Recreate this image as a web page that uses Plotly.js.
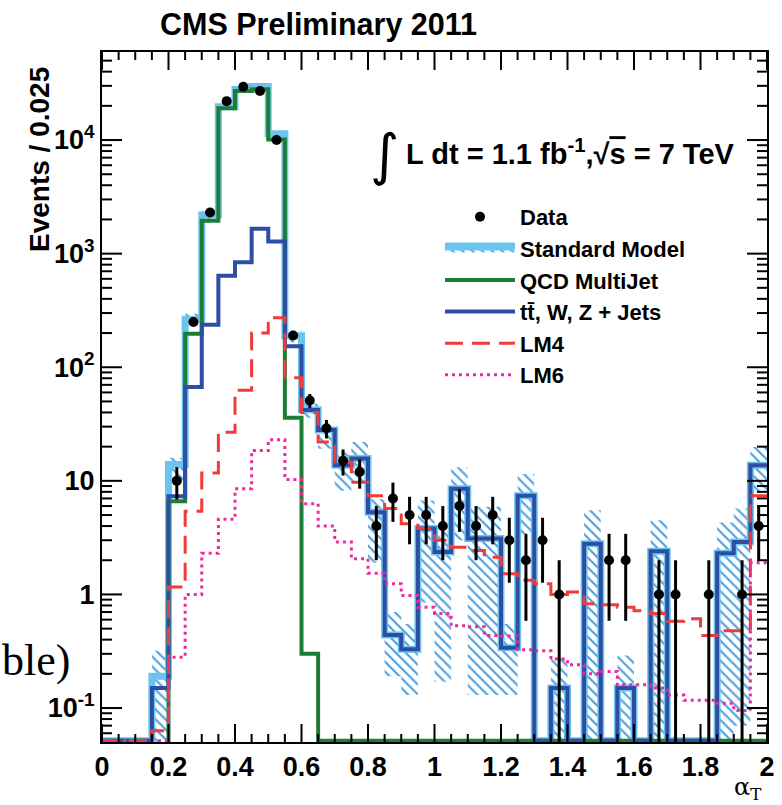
<!DOCTYPE html>
<html><head><meta charset="utf-8">
<script src="https://cdn.plot.ly/plotly-3.0.1.min.js"></script>
<style>html,body{margin:0;padding:0;background:#fff}</style>
</head><body><div id="chart" style="width:782px;height:805px"></div>
<script>
// ---- binning: 40 bins of width 0.05 from 0 to 2 ----
const binStart = 0, binWidth = 0.05, nBins = 40;

// ---- values (one entry per bin) ----
const dataCounts = [0,0,0,0, 10,250,2300,22000,29500,27000,10000,190,51, 29,15,12,4,7,5,5, 4,6,4,5,3,2, 3,1,0,0,2,2,0,1, 1,0,1,0,1,4];
const qcdMultiJet = [0,0,0,0.04, 6.6,197,1950,19000,27000,28000,10100,36,0.3, 0,0,0,0,0,0,0, 0,0,0,0,0,0, 0,0,0,0,0,0,0,0, 0,0,0,0,0,0];
const ttWZJets = [0,0,0,0.15, 7.3,67,237,640,840,1660,1280,153,42, 28,13.7,15.7,5.3,0.44,0.33,3.8, 2.36,8.5,3.1,3.1,0.34,7.4, 0,0.15,0,2.8,0,0.15,0,2.4, 0,0,0,2.3,2.9,13.7];
const lm4 = [0,0,0,0.063, 1.16,5.4,11.7,26.8,62.6,200,273,81,40, 22,14.6,9.7,7.4,5.7,4.2,3.8, 3.0,2.6,2.44,2.13,1.52,1.33, 1.24,1.0,1.05,0.83,0.81,0.77,0.72,0.68, 0.58,0.61,0.435,0.48,0.48,7.4];
const lm6 = [0,0,0,0, 0.28,1.0,2.3,4.6,8.5,18.5,23,10.3,6.3, 4.0,2.9,2.06,1.54,1.24,0.98,0.77, 0.68,0.53,0.52,0.435,0.43,0.326, 0.32,0.27,0.24,0.2,0.21,0.16,0.16,0.15, 0.13,0.117,0.117,0.11,0.095,1.9];
// Standard Model uncertainty band (hatched), lower and upper edge per bin
const smBandLo = [0,0,0,0, 10,234,2000,18500,26500,28000,10600,166,36, 19.2,8.2,9.7,1.9,0.19,0.13,0.85, 0.17,3,0.13,0.13,0.13,3.4, 0,0,0,0,0,0,0,0, 0,0,0,0,0.07,7.9];
const smBandHi = [0,0,0,0.32, 16,296,2400,21000,29500,31300,12000,210,48, 29.7,17.8,22,6.9,0.7,0.55,6.7, 3.9,13.2,5.9,5.9,0.55,11.5, 0,0.28,0,5.5,0,0.29,0,4.5, 0,0,0,4.3,5.7,19.9];

// ---- axis labels ----
const yTickVals = [0.1, 1, 10, 100, 1000, 10000];
const yTickText = ['10<sup>-1</sup>', '1', '10', '10<sup>2</sup>', '10<sup>3</sup>', '10<sup>4</sup>'];
const xMajorStep = 0.2, xMinorStep = 0.05;

// ---- derived ----
const X_RANGE = [0, 2];
const Y_RANGE = [-1.299, 4.775];
const FLOOR = Math.pow(10, Y_RANGE[0] + 0.012);   // empty bins sit on the frame
const BELOW = 0.02;                                 // below the frame (clipped)
const edges = []; for (let i = 0; i <= nBins; i++) edges.push(+(binStart + i * binWidth).toFixed(3));
const centers = edges.slice(0, -1).map(e => +(e + binWidth / 2).toFixed(3));
const smTotal = qcdMultiJet.map((v, i) => v + ttWZJets[i]);

function stepY(vals) { const y = vals.map(v => (v > 0 ? v : FLOOR)); y.push(y[y.length - 1]); return y; }
function stepLine(name, vals, line, rank, show) {
  return { type: 'scatter', mode: 'lines', name: name, x: edges, y: stepY(vals),
           line: Object.assign({ shape: 'hv' }, line), legendrank: rank, showlegend: show, hoverinfo: 'skip' };
}

const HATCH = { shape: '\\', fgcolor: '#4c9fe0', bgcolor: 'rgba(0,0,0,0)', size: 7, solidity: 0.3 };

// hatched band polygon
const bx = [], by = [];
for (let i = 0; i < nBins; i++) { const h = smBandHi[i] > 0 ? smBandHi[i] : BELOW; bx.push(edges[i], edges[i + 1]); by.push(h, h); }
for (let i = nBins - 1; i >= 0; i--) { const l = smBandLo[i] > 0 ? smBandLo[i] : BELOW; bx.push(edges[i + 1], edges[i]); by.push(l, l); }
bx.push(bx[0]); by.push(by[0]);

const band = { type: 'scatter', mode: 'lines', name: 'SM uncertainty', x: bx, y: by, fill: 'toself',
  fillcolor: 'rgba(0,0,0,0)', line: { width: 0, color: '#6cc4ee' }, fillpattern: HATCH, showlegend: false, hoverinfo: 'skip' };
const smLegend = { type: 'scatter', mode: 'lines', name: 'Standard Model', x: [null], y: [null], fill: 'toself',
  fillcolor: 'rgba(0,0,0,0)', line: { width: 8, color: '#6cc4ee' }, fillpattern: HATCH, legendrank: 2, showlegend: true, hoverinfo: 'skip' };

const smLine = stepLine('SM total', smTotal, { color: '#6cc4ee', width: 7 }, 9, false);
const qcdLine = stepLine('QCD MultiJet', qcdMultiJet, { color: '#1e7d34', width: 4 }, 3, true);
const ewkLine = stepLine('t\u0074\u0304, W, Z + Jets', ttWZJets, { color: '#2c4ea3', width: 4 }, 4, true);
const lm4Line = stepLine('LM4', lm4, { color: '#f23a3a', width: 3, dash: '18px,9px' }, 5, true);
const lm6Line = stepLine('LM6', lm6, { color: '#ee2a9a', width: 3, dash: '3px,4px' }, 6, true);

const dx = [], dy = [], eUp = [], eDn = [];
dataCounts.forEach((n, i) => {
  if (n > 0) { const s = Math.sqrt(n); dx.push(centers[i]); dy.push(n); eUp.push(s); eDn.push(n - s > 0.03 ? s : n - BELOW); }
});
const dataTrace = { type: 'scatter', mode: 'markers', name: 'Data', x: dx, y: dy, marker: { color: '#000', size: 10 },
  error_y: { type: 'data', symmetric: false, array: eUp, arrayminus: eDn, color: '#000', thickness: 3, width: 0 },
  legendrank: 1, showlegend: true, hoverinfo: 'skip' };

// minor log ticks
const yMinor = [];
for (let d = -2; d <= 4; d++) for (let k = 2; k <= 9; k++) yMinor.push(k * Math.pow(10, d));

const F = 'Liberation Sans, Arial, sans-serif';
const L = 102, R = 767, T = 52, B = 742;
const W = R - L, H = B - T;
const px = x => (x - L) / W, py = y => (B - y) / H;

// ROOT-style inside ticks on all four sides, placed from the axis tick values
const tickShapes = [];
const tickLine = (x0, y0, x1, y1) => tickShapes.push({ type: 'line', xref: 'paper', yref: 'paper', x0, y0, x1, y1,
  line: { color: '#000', width: 2 }, layer: 'above' });
const nXMinor = Math.round((X_RANGE[1] - X_RANGE[0]) / xMinorStep);
for (let i = 0; i <= nXMinor; i++) {
  const xv = X_RANGE[0] + i * xMinorStep;
  const isMajor = Math.abs(xv / xMajorStep - Math.round(xv / xMajorStep)) < 1e-6;
  const len = (isMajor ? 18 : 8) / H;
  const xf = (xv - X_RANGE[0]) / (X_RANGE[1] - X_RANGE[0]);
  tickLine(xf, 0, xf, len); tickLine(xf, 1, xf, 1 - len);
}
const yFrac = v => (Math.log10(v) - Y_RANGE[0]) / (Y_RANGE[1] - Y_RANGE[0]);
[[yTickVals, 20], [yMinor, 10]].forEach(([vals, lenPx]) => {
  vals.forEach(v => {
    const yf = yFrac(v);
    if (yf < 0 || yf > 1) return;
    const len = lenPx / W;
    tickLine(0, yf, len, yf); tickLine(1, yf, 1 - len, yf);
  });
});

const layout = {
  width: 782, height: 805, margin: { l: L, r: 782 - R, t: T, b: 805 - B },
  paper_bgcolor: '#fff', plot_bgcolor: '#fff', showlegend: true,
  legend: { x: px(440), y: py(196), xanchor: 'left', yanchor: 'top', bgcolor: 'rgba(0,0,0,0)',
    font: { family: F, size: 22, color: '#000', weight: 'bold' }, itemwidth: 70, traceorder: 'normal', tracegroupgap: 0 },
  xaxis: { range: X_RANGE, showline: true, linecolor: '#000', linewidth: 2, mirror: true,
    ticks: '', tick0: 0, dtick: xMajorStep, showgrid: false, zeroline: false,
    tickfont: { family: F, size: 27, color: '#000', weight: 'bold' } },
  yaxis: { type: 'log', range: Y_RANGE, showline: true, linecolor: '#000', linewidth: 2, mirror: true,
    ticks: '', tickmode: 'array', tickvals: yTickVals, ticktext: yTickText, showgrid: false, zeroline: false,
    tickfont: { family: F, size: 27, color: '#000', weight: 'bold' } },
  shapes: tickShapes,
  annotations: [
    { text: '<b>CMS Preliminary 2011</b>', xref: 'paper', yref: 'paper', x: px(158), y: py(24),
      xanchor: 'left', yanchor: 'middle', showarrow: false, font: { family: F, size: 30.5, color: '#000' } },
    { text: '<b>Events / 0.025</b>', xref: 'paper', yref: 'paper', x: px(39), y: py(160), textangle: -90,
      xanchor: 'center', yanchor: 'middle', showarrow: false, font: { family: F, size: 28, color: '#000' } },
    { text: '\u222B', xref: 'paper', yref: 'paper', x: px(384), y: py(155),
      xanchor: 'center', yanchor: 'middle', showarrow: false, font: { family: 'DejaVu Sans', size: 56, color: '#000' } },
    { text: '<b>L dt = 1.1 fb<sup>-1</sup>,\u221A<span style="text-decoration:overline">s</span> = 7 TeV</b>', xref: 'paper', yref: 'paper', x: px(404), y: py(152),
      xanchor: 'left', yanchor: 'middle', showarrow: false, font: { family: F, size: 29, color: '#000' } },
    { text: '\u03B1<sub>T</sub>', xref: 'paper', yref: 'paper', x: px(764), y: py(788),
      xanchor: 'right', yanchor: 'middle', showarrow: false, font: { family: 'DejaVu Serif', size: 24, color: '#000' } },
    { text: 'ble)', xref: 'paper', yref: 'paper', x: px(72), y: py(660),
      xanchor: 'right', yanchor: 'middle', showarrow: false, font: { family: 'Liberation Serif', size: 44, color: '#000' } }
  ]
};

Plotly.newPlot('chart', [band, smLine, qcdLine, ewkLine, lm4Line, lm6Line, smLegend, dataTrace], layout, { displayModeBar: false, staticPlot: true });
</script></body></html>
